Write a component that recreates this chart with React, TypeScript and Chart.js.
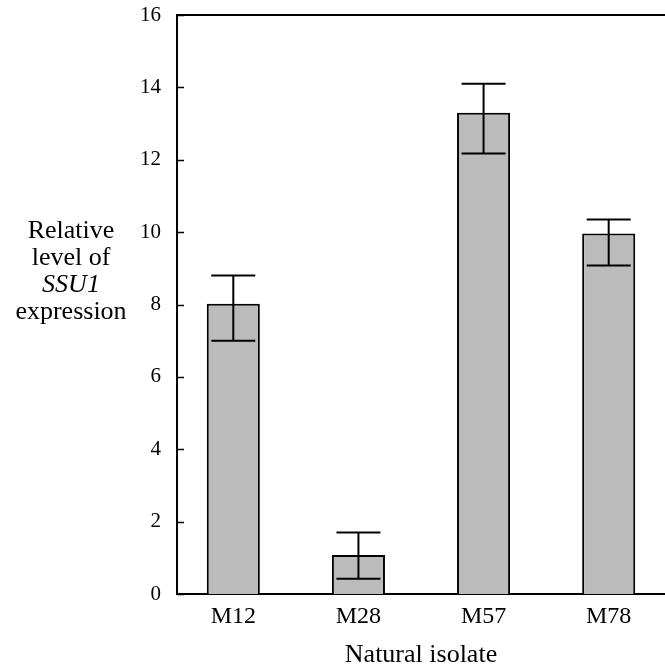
import React, { useEffect, useRef } from "react";
import { Chart, registerables } from "chart.js";

Chart.register(...registerables);

const categories = ["M12", "M28", "M57", "M78"];
const values = [8.02, 1.08, 13.3, 9.96];
const errorHigh = [8.8, 1.7, 14.1, 10.35];
const errorLow = [7.0, 0.42, 12.17, 9.08];
const yTickValues = [0, 2, 4, 6, 8, 10, 12, 14, 16];
const yTitleLines = [
  { text: "Relative", italic: false },
  { text: "level of", italic: false },
  { text: "SSU1", italic: true },
  { text: "expression", italic: false },
];
const xTitle = "Natural isolate";

const FONT = '"Liberation Serif", "Times New Roman", serif';

const decorPlugin = {
  id: "decor",
  afterDatasetsDraw(chart: any) {
    const ctx = chart.ctx;
    const y = chart.scales.y;
    const meta = chart.getDatasetMeta(0);
    ctx.save();
    ctx.strokeStyle = "#000";
    ctx.lineWidth = 2;
    meta.data.forEach((bar: any, i: number) => {
      const x = bar.x;
      const yh = y.getPixelForValue(errorHigh[i]);
      const yl = y.getPixelForValue(errorLow[i]);
      const cap = 22;
      ctx.beginPath();
      ctx.moveTo(x, yh);
      ctx.lineTo(x, yl);
      ctx.moveTo(x - cap, yh);
      ctx.lineTo(x + cap, yh);
      ctx.moveTo(x - cap, yl);
      ctx.lineTo(x + cap, yl);
      ctx.stroke();
    });
    ctx.restore();
  },
  afterDraw(chart: any) {
    const ctx = chart.ctx;
    const area = chart.chartArea;
    const y = chart.scales.y;
    ctx.save();
    ctx.strokeStyle = "#000";
    ctx.lineWidth = 2;
    // top frame line
    ctx.beginPath();
    ctx.moveTo(area.left - 1, area.top);
    ctx.lineTo(area.right, area.top);
    ctx.stroke();
    // inner y ticks
    ctx.lineWidth = 1.5;
    yTickValues.forEach((v) => {
      const py = Math.round(y.getPixelForValue(v)) + 0.5;
      ctx.beginPath();
      ctx.moveTo(area.left, py);
      ctx.lineTo(area.left + 7, py);
      ctx.stroke();
    });
    // y title
    ctx.fillStyle = "#000";
    ctx.textAlign = "center";
    ctx.textBaseline = "alphabetic";
    yTitleLines.forEach((ln, i) => {
      ctx.font = (ln.italic ? "italic " : "") + "26px " + FONT;
      ctx.fillText(ln.text, 71, 238 + i * 27);
    });
    // x title
    ctx.font = "26px " + FONT;
    ctx.fillText(xTitle, (area.left + area.right) / 2, 662);
    ctx.restore();
  },
};

export default function App() {
  const ref = useRef<HTMLCanvasElement>(null);
  useEffect(() => {
    if (!ref.current) return;
    const chart = new Chart(ref.current, {
      type: "bar",
      data: {
        datasets: [
          {
            data: values.map((v, i) => ({ x: i, y: v })),
            backgroundColor: "#bbbbbb",
            borderColor: "#000",
            borderWidth: 2,
            categoryPercentage: 1,
            barPercentage: 0.424,
          },
        ],
      },
      options: {
        animation: false,
        responsive: false,
        layout: { padding: { top: 15, left: 0, right: 0, bottom: 0 } },
        plugins: { legend: { display: false }, tooltip: { enabled: false } },
        scales: {
          x: {
            type: "linear",
            offset: false,
            min: -0.45,
            max: 3.45,
            afterBuildTicks: (scale: any) => {
              scale.ticks = categories.map((_, i) => ({ value: i }));
            },
            afterFit: (scale: any) => {
              scale.height = 72;
              scale.paddingLeft = 0;
              scale.paddingRight = 0;
            },
            grid: { display: false, drawTicks: false, offset: false },
            border: { display: true, color: "#000", width: 2 },
            ticks: {
              color: "#000",
              font: { family: FONT, size: 24 },
              padding: 8,
              maxRotation: 0,
              autoSkip: false,
              callback: (v: any) => categories[v] ?? "",
            },
          },
          y: {
            min: 0,
            max: 16,
            afterBuildTicks: (scale: any) => {
              scale.ticks = yTickValues.map((v) => ({ value: v }));
            },
            afterFit: (scale: any) => {
              scale.width = 177;
              scale.paddingTop = 0;
              scale.paddingBottom = 0;
            },
            grid: { display: false, drawTicks: false },
            border: { display: true, color: "#000", width: 2 },
            ticks: {
              color: "#000",
              font: { family: FONT, size: 21 },
              padding: 16,
            },
          },
        },
      },
      plugins: [decorPlugin],
    });
    return () => chart.destroy();
  }, []);
  return (
    <div style={{ position: "fixed", left: 0, top: 0, width: 665, height: 666, background: "#fff" }}>
      <canvas ref={ref} width={665} height={666} style={{ display: "block" }} />
    </div>
  );
}
